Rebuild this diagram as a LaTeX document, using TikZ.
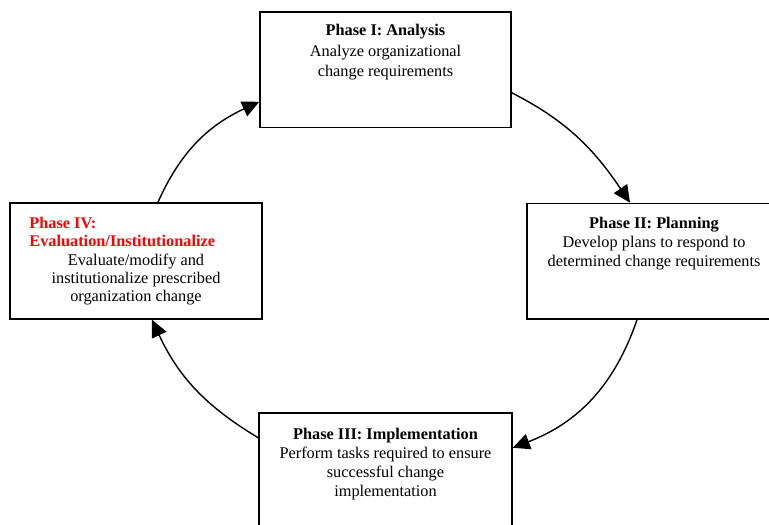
\documentclass[tikz,border=0pt]{standalone}
\usepackage{fontspec}
\setmainfont{Liberation Serif}
\usetikzlibrary{arrows.meta}
\begin{document}
\begin{tikzpicture}[x=1pt,y=1pt,
  phasebox/.style={draw, line width=1.6pt, inner sep=0pt},
  txt/.style={align=center, inner sep=0pt, font=\fontsize{16.3}{19}\selectfont},
  conn/.style={line width=1.4pt, -{Triangle[length=17pt,width=16pt]}}]
\clip (0,0) rectangle (769,525);
\fill[white] (0,0) rectangle (769,525);
% boxes
\node[phasebox, minimum width=251pt, minimum height=115.7pt] (p1) at (385.5,455.2) {};
\node[phasebox, minimum width=254pt, minimum height=115.5pt] (p2) at (654,263.75) {};
\node[phasebox, minimum width=253pt, minimum height=115.5pt] (p3) at (385.5,54.25) {};
\node[phasebox, minimum width=252pt, minimum height=116pt] (p4) at (136,264) {};
% texts
\node[txt, anchor=north, font=\fontsize{16.3}{20.5}\selectfont] (t1) at ([yshift=-13pt]p1.north)
  {\textbf{Phase I: Analysis}\\Analyze organizational\\change requirements};
\node[txt, anchor=north] (t2) at ([yshift=-14.5pt]p2.north)
  {\textbf{Phase II: Planning}\\Develop plans to respond to\\determined change requirements};
\node[txt, anchor=north] (t3) at ([yshift=-15.8pt]p3.north)
  {\textbf{Phase III: Implementation}\\Perform tasks required to ensure\\successful change\\implementation};
\node[txt, align=left, anchor=north west, text=red, font=\fontsize{16.3}{17.5}\selectfont\bfseries] (t4a) at ([xshift=20pt,yshift=-14.8pt]p4.north west)
  {Phase IV:\\Evaluation/Institutionalize};
\node[txt, anchor=north, font=\fontsize{16.3}{18.3}\selectfont] (t4b) at ([yshift=-51.5pt]p4.north)
  {Evaluate/modify and\\institutionalize prescribed\\organization change};
% connector end points
\coordinate (s1) at ([yshift=-23pt]p1.east);
\coordinate (e1) at ([xshift=-24pt]p2.north);
\coordinate (s2) at ([xshift=-17pt]p2.south);
\coordinate (e2) at ([yshift=23pt]p3.east);
\coordinate (s3) at ([yshift=33pt]p3.west);
\coordinate (e3) at ([xshift=16pt]p4.south);
\coordinate (s4) at ([xshift=22pt]p4.north);
\coordinate (e4) at ([yshift=-32pt]p1.west);
% connectors
\draw[conn] (s1) to[out=-27,in=124] (e1);
\draw[conn] (s2) to[out=251,in=21] (e2);
\draw[conn] (s3) to[out=149,in=-65] (e3);
\draw[conn] (s4) to[out=66,in=205] (e4);
\end{tikzpicture}
\end{document}
